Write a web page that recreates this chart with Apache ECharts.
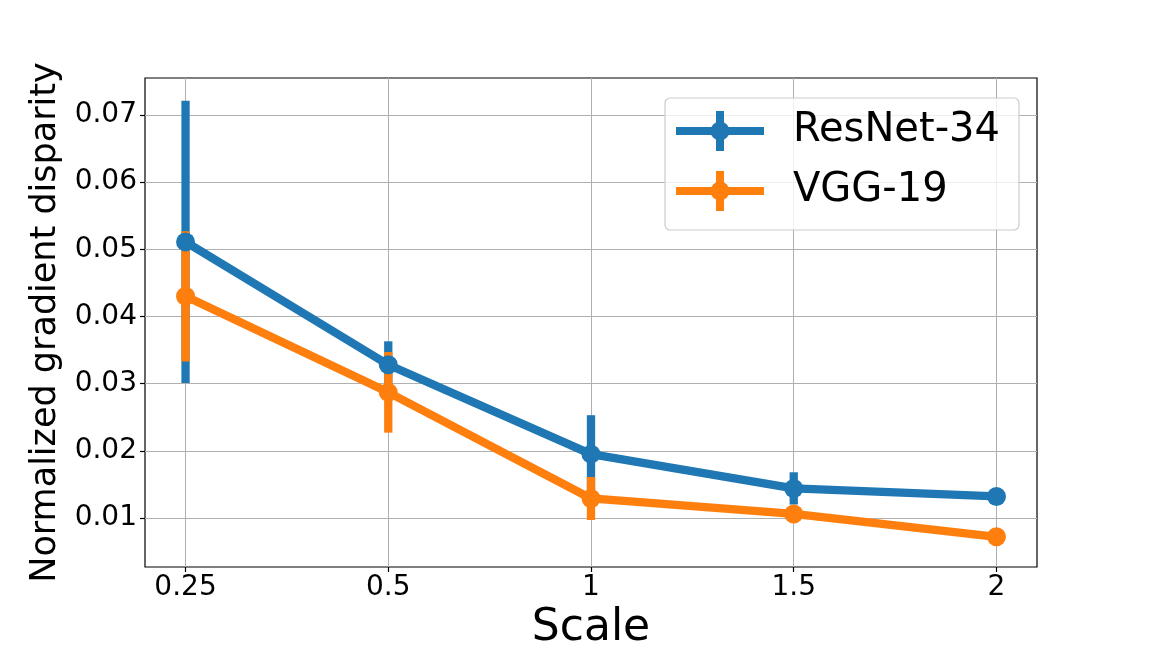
<!DOCTYPE html>
<html>
<head>
<meta charset="utf-8">
<script src="https://cdn.jsdelivr.net/npm/echarts@6/dist/echarts.min.js"></script>
<style>
html,body{margin:0;padding:0;background:#fff;}
#chart{width:1152px;height:648px;}
</style>
</head>
<body>
<div id="chart"></div>
<script>
const scales = ['0.25', '0.5', '1', '1.5', '2'];
const resnetMean = [0.0511, 0.0328, 0.0195, 0.0144, 0.0132];
const resnetErr  = [0.0210, 0.0035, 0.0058, 0.0024, 0.0005];
const vggMean    = [0.0430, 0.0287, 0.0129, 0.0106, 0.0072];
const vggErr     = [0.0097, 0.0060, 0.0032, 0.0005, 0.0003];
const yTicks = [0.01, 0.02, 0.03, 0.04, 0.05, 0.06, 0.07];
const seriesNames = ['ResNet-34', 'VGG-19'];

const BLUE = '#1f77b4', ORANGE = '#ff7f0e';
const FONT = 'DejaVu Sans';

function pts(mean) { return mean.map((v, i) => [i, v]); }
function errData(mean, err) { return mean.map((v, i) => [i, v - err[i], v + err[i]]); }

function errRender(color) {
  return function (params, api) {
    const x = api.value(0);
    const lo = api.coord([x, api.value(1)]);
    const hi = api.coord([x, api.value(2)]);
    const w = 8.3;
    return {
      type: 'rect',
      shape: { x: lo[0] - w / 2, y: hi[1], width: w, height: lo[1] - hi[1] },
      style: { fill: color }
    };
  };
}

const legendIcon = 'path://M0 16 L88 16 L88 24 L0 24 Z M40 0 L48 0 L48 40 L40 40 Z M44 10.5 A9.5 9.5 0 1 1 43.99 10.5 Z';

const chart = echarts.init(document.getElementById('chart'), null, { renderer: 'canvas' });
chart.setOption({
  animation: false,
  textStyle: { fontFamily: FONT },
  grid: {
    left: 145, right: 115, top: 78, bottom: 81,
    outerBoundsMode: 'none', containLabel: false,
    show: true, borderColor: '#000', borderWidth: 1.2, backgroundColor: 'transparent'
  },
  legend: {
    data: seriesNames,
    orient: 'vertical',
    left: 665, top: 98,
    icon: legendIcon,
    itemWidth: 88, itemHeight: 40, itemGap: 20,
    padding: [13, 19, 19, 11],
    backgroundColor: 'rgba(255,255,255,0.8)',
    borderColor: '#cccccc', borderWidth: 1.2, borderRadius: 5,
    textStyle: { fontSize: 40, color: '#000', fontFamily: FONT, padding: [0, 0, 0, 24] }
  },
  xAxis: {
    type: 'value', min: -0.2, max: 4.2, splitNumber: 4,
    name: 'Scale', nameLocation: 'middle', nameGap: 38,
    nameTextStyle: { fontSize: 44, color: '#000', fontFamily: FONT },
    axisLine: { show: false, onZero: false },
    axisTick: { show: true, length: 5, lineStyle: { color: '#000', width: 1.2 }, customValues: [0, 1, 2, 3, 4] },
    axisLabel: {
      fontSize: 28, color: '#000', margin: 7, fontFamily: FONT,
      customValues: [0, 1, 2, 3, 4],
      formatter: v => scales[Math.round(v)]
    },
    splitLine: { show: true, lineStyle: { color: '#b0b0b0', width: 1 } }
  },
  yAxis: {
    type: 'value', min: 0.0027, max: 0.0755, splitNumber: 7,
    name: 'Normalized gradient disparity', nameLocation: 'middle', nameGap: 77,
    nameTextStyle: { fontSize: 35, color: '#000', fontFamily: FONT },
    axisLine: { show: false, onZero: false },
    axisTick: { show: true, length: 5, lineStyle: { color: '#000', width: 1.2 }, customValues: yTicks },
    axisLabel: {
      fontSize: 28, color: '#000', margin: 8, fontFamily: FONT,
      customValues: yTicks,
      formatter: v => v.toFixed(2)
    },
    splitLine: { show: true, lineStyle: { color: '#b0b0b0', width: 1 } }
  },
  series: [
    {
      type: 'custom', name: 'ResNet-34 err', z: 2, silent: true,
      renderItem: errRender(BLUE), data: errData(resnetMean, resnetErr),
      encode: { x: 0, y: [1, 2] }
    },
    {
      type: 'custom', name: 'VGG-19 err', z: 2, silent: true,
      renderItem: errRender(ORANGE), data: errData(vggMean, vggErr),
      encode: { x: 0, y: [1, 2] }
    },
    {
      type: 'line', name: seriesNames[0], z: 3, data: pts(resnetMean),
      symbol: 'circle', symbolSize: 19, showSymbol: true,
      itemStyle: { color: BLUE }, lineStyle: { color: BLUE, width: 8.3 }
    },
    {
      type: 'line', name: seriesNames[1], z: 3, data: pts(vggMean),
      symbol: 'circle', symbolSize: 19, showSymbol: true,
      itemStyle: { color: ORANGE }, lineStyle: { color: ORANGE, width: 8.3 }
    }
  ]
});
</script>
</body>
</html>
